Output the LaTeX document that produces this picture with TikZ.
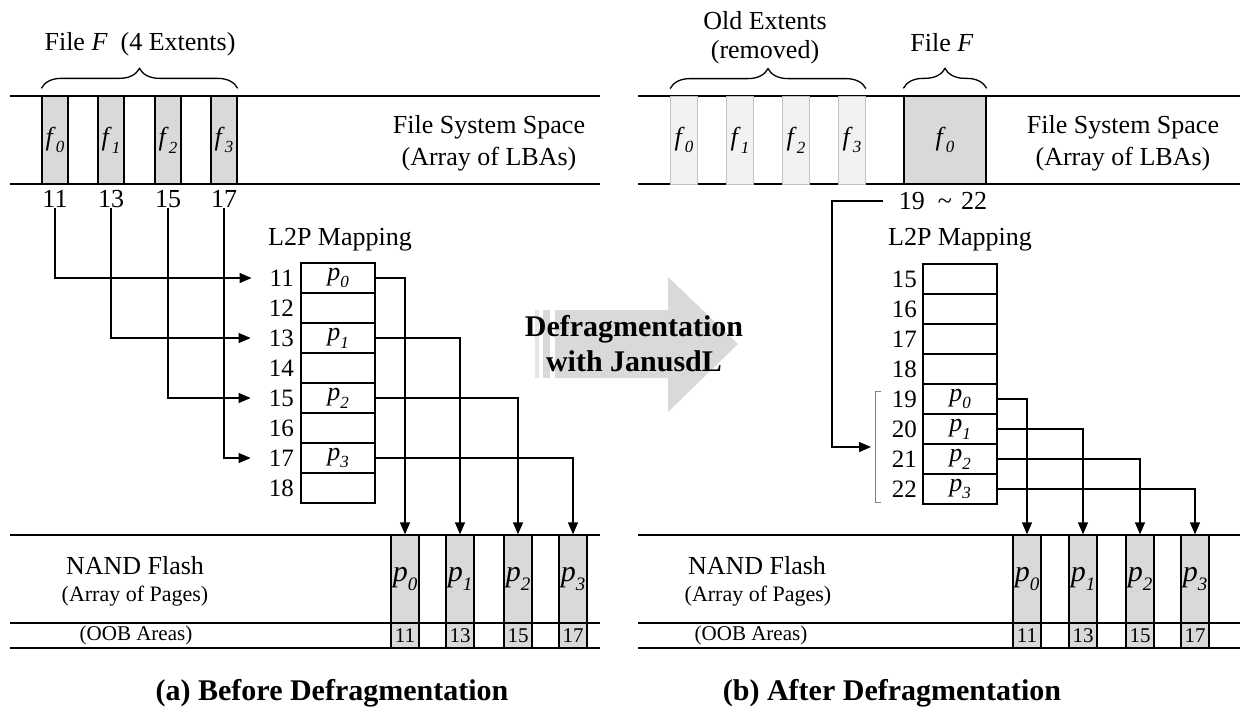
\documentclass[tikz,border=0pt]{standalone}
\usepackage{fontspec}
\setmainfont{Liberation Serif}
\usetikzlibrary{arrows.meta,decorations.pathreplacing,calc}
\definecolor{gfill}{HTML}{D9D9D9}
\definecolor{glight}{HTML}{F2F2F2}
\definecolor{gline}{HTML}{BFBFBF}
\definecolor{gbarA}{HTML}{E6E6E6}
\newcommand\ix[3][17]{\textit{#2}\raisebox{-0.3em}{\fontsize{#1}{#1}\selectfont\textit{#3}}}
\begin{document}
\begin{tikzpicture}[x=1pt,y=-1pt,
  every node/.style={font=\fontsize{26}{30}\selectfont, inner sep=0pt},
  band/.style={line width=2pt},
  ext/.style={draw, line width=1.3pt, fill=gfill, minimum width=26pt, minimum height=88pt},
  oldext/.style={draw=gline, line width=0.8pt, fill=glight, minimum width=27pt, minimum height=88pt},
  cell/.style={draw, line width=1.3pt, minimum width=74pt, minimum height=30pt},
  rowlbl/.style={anchor=east, font=\fontsize{25}{25}\selectfont},
  page/.style={draw, line width=1.3pt, fill=gfill, minimum width=28pt, minimum height=88pt, font=\fontsize{30}{30}\selectfont},
  oob/.style={draw, line width=1.3pt, fill=gfill, minimum width=28pt, minimum height=25pt, font=\fontsize{21}{21}\selectfont},
  conn/.style={line width=1.3pt, -{Triangle[length=12pt,width=10pt]}},
  brc/.style={decorate, decoration={brace, amplitude=20pt}, line width=1.3pt},
  small/.style={font=\fontsize{22}{22}\selectfont},
  captxt/.style={font=\bfseries\fontsize{30}{30}\selectfont},
]
\useasboundingbox (0,0) rectangle (1257,715);
\fill[white] (0,0) rectangle (1257,715);

% ================= (a) Before =================
\draw[band] (10,96) -- (600,96);
\draw[band] (10,184) -- (600,184);
\foreach \i/\x/\n in {0/55/11,1/111/13,2/168/15,3/224/17}{
  \node[ext] (lf\i) at (\x,140) {\ix{f}{\i}};
  \node (ln\i) at (\x,199) {\n};
}
\draw[brc] ([yshift=7pt]lf0.north west) -- ([yshift=7pt]lf3.north east);
\node (lfile) at (140,44) {File \textit{F}\ \ (4 Extents)};
\node (lfss) at (489,127) {File System Space};
\node (lfsa) at (489,159) {(Array of LBAs)};

\node (lmap) at (340,240) {L2P Mapping};
\foreach \k/\n in {0/11,1/12,2/13,3/14,4/15,5/16,6/17,7/18}{
  \node[cell] (lc\n) at (338,278+30*\k) {};
  \node[rowlbl] (lr\n) at (294,278+30*\k) {\n};
}
\node at (lc11) {\ix{p}{0}};
\node at (lc13) {\ix{p}{1}};
\node at (lc15) {\ix{p}{2}};
\node at (lc17) {\ix{p}{3}};

\draw[conn] (ln0.south) |- ([xshift=-18pt]lr11.west);
\draw[conn] (ln1.south) |- ([xshift=-18pt]lr13.west);
\draw[conn] (ln2.south) |- ([xshift=-18pt]lr15.west);
\draw[conn] (ln3.south) |- ([xshift=-18pt]lr17.west);

\draw[band] (10,535) -- (600,535);
\draw[line width=2.6pt] (10,623) -- (600,623);
\draw[band] (10,648) -- (600,648);
\foreach \i/\x/\n in {0/405/11,1/460/13,2/518/15,3/573/17}{
  \node[page] (lp\i) at (\x,579) {\ix[19]{p}{\i}};
  \node[oob] (lo\i) at (\x,635.5) {\n};
}
\draw[conn] (lc11.east) -| (lp0.north);
\draw[conn] (lc13.east) -| (lp1.north);
\draw[conn] (lc15.east) -| (lp2.north);
\draw[conn] (lc17.east) -| (lp3.north);

\node (lnand) at (135,566) {NAND Flash};
\node[small] (lpag) at (135,596) {(Array of Pages)};
\node[font=\fontsize{21}{21}\selectfont] (loob) at (136,635) {(OOB Areas)};
\node[captxt] (capa) at (332,693) {(a) Before Defragmentation};

% ================= middle arrow =================
\fill[gfill] (555,310) -- (668,310) -- (668,277) -- (738,344) -- (668,412) -- (668,378) -- (555,378) -- cycle;
\fill[gbarA] (535,310) rectangle (539,378);
\fill[gfill] (543,310) rectangle (550,378);
\node[align=center, font=\bfseries\fontsize{30}{35}\selectfont] (dfg) at (634,344) {Defragmentation\\with JanusdL};

% ================= (b) After =================
\draw[band] (638,96) -- (1240,96);
\draw[band] (638,184) -- (1240,184);
\foreach \i/\x in {0/684,1/740,2/796,3/852}{
  \node[oldext] (ro\i) at (\x,140) {\ix{f}{\i}};
}
\node[ext, minimum width=82pt] (rf) at (945,140) {\ix{f}{0}};
\draw[brc] ([yshift=7pt]ro0.north west) -- ([yshift=7pt]ro3.north east);
\draw[brc] ([yshift=7pt]rf.north west) -- ([yshift=7pt]rf.north east);
\node (rold) at (765,21) {Old Extents};
\node (rrem) at (765,52) {(removed)};
\node (rfile) at (942,43) {File \textit{F}};
\node (rfss) at (1123,127) {File System Space};
\node (rfsa) at (1123,159) {(Array of LBAs)};
\node (rng) at (943,201) {19\hspace{0.5em}\textasciitilde\hspace{0.35em}22};

\node (rmap) at (960,240) {L2P Mapping};
\foreach \k/\n in {0/15,1/16,2/17,3/18,4/19,5/20,6/21,7/22}{
  \node[cell] (rc\n) at (960,279+30*\k) {};
  \node[rowlbl] (rr\n) at (917,279+30*\k) {\n};
}
\node at (rc19) {\ix{p}{0}};
\node at (rc20) {\ix{p}{1}};
\node at (rc21) {\ix{p}{2}};
\node at (rc22) {\ix{p}{3}};

\draw[gray, line width=1pt] (881,391) -- (875,391) -- (875,502) -- (881,502);
\coordinate (brk) at (871,447);
\draw[conn] ([xshift=-16pt]rng.west) -| ($(brk)+(-39,0)$) -- (brk);

\draw[band] (638,535) -- (1240,535);
\draw[line width=2.6pt] (638,623) -- (1240,623);
\draw[band] (638,648) -- (1240,648);
\foreach \i/\x/\n in {0/1027/11,1/1083/13,2/1140/15,3/1195/17}{
  \node[page] (rp\i) at (\x,579) {\ix[19]{p}{\i}};
  \node[oob] (roo\i) at (\x,635.5) {\n};
}
\draw[conn] (rc19.east) -| (rp0.north);
\draw[conn] (rc20.east) -| (rp1.north);
\draw[conn] (rc21.east) -| (rp2.north);
\draw[conn] (rc22.east) -| (rp3.north);

\node (rnand) at (757,566) {NAND Flash};
\node[small] (rpag) at (758,596) {(Array of Pages)};
\node[font=\fontsize{21}{21}\selectfont] (room) at (751,635) {(OOB Areas)};
\node[captxt] (capb) at (892,693) {(b) After Defragmentation};
\end{tikzpicture}
\end{document}
